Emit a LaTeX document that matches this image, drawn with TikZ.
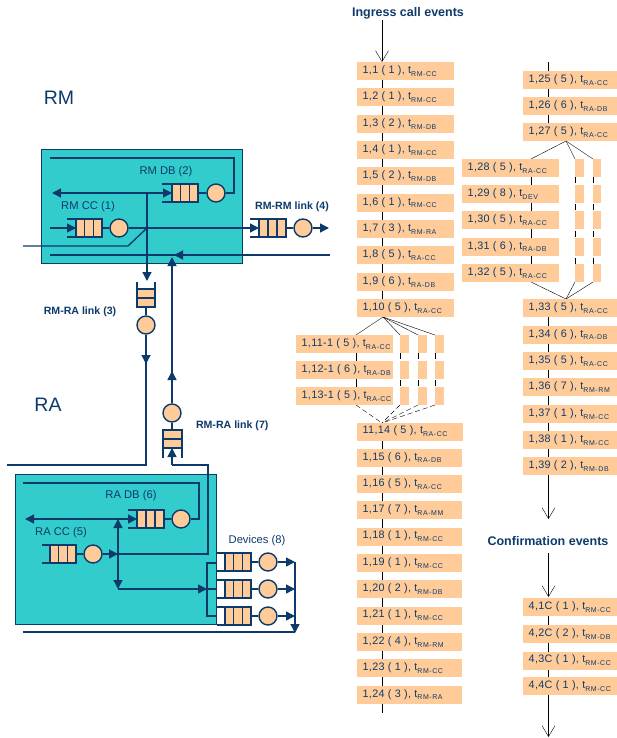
\documentclass[tikz,border=0pt]{standalone}
\usepackage{fontspec}
\setmainfont{Liberation Sans}
\usetikzlibrary{arrows.meta}
\definecolor{navy}{HTML}{0D3A6B}
\definecolor{teal2}{HTML}{33CCCC}
\definecolor{salm}{HTML}{FFCC99}
\pgfdeclarelayer{bg}
\pgfsetlayers{bg,main}
\newcommand{\tsub}[1]{\raisebox{-2.8pt}{\fontsize{7}{7}\selectfont\addfontfeature{LetterSpace=8}#1}}
% horizontal queue: left x, salmon start, right x, centre y
\newcommand{\hq}[4]{%
  \fill[salm] (#2,#4-9) rectangle (#3,#4+9);
  \draw[line width=1.4pt] ({#2+(#3-#2)/3},#4-9) -- ({#2+(#3-#2)/3},#4+9);
  \draw[line width=1.4pt] ({#2+2*(#3-#2)/3},#4-9) -- ({#2+2*(#3-#2)/3},#4+9);
  \draw[line width=1.4pt] (#2,#4-9) -- (#2,#4+9);
  \draw[line width=1.4pt] (#1,#4-9) -- (#3,#4-9) -- (#3,#4+9) -- (#1,#4+9);
}
% event box: name, left x, width, centre y, text, subscript
\newcommand{\ev}[6]{\node[evt] (#1) at (#2,#4) {\makebox[#3pt][l]{\hspace{6pt}\addfontfeature{LetterSpace=3}#5\tsub{#6}}};}
\begin{document}
\begin{tikzpicture}[x=1pt,y=-1pt,line width=1.35pt,color=navy,
  arr/.style={-{Triangle[length=9pt,width=9pt]}},
  darr/.style={{Triangle[length=9pt,width=9pt]}-{Triangle[length=9pt,width=9pt]}},
  barb/.style={-{Straight Barb[length=11pt,width=13pt]}},
  circ/.style={circle,draw=navy,fill=salm,line width=1.4pt,minimum size=18pt,inner sep=0pt},
  evt/.style={fill=salm,inner sep=0pt,minimum height=18pt,anchor=west,font=\fontsize{10.8}{12}\selectfont,text=navy},
  lbl/.style={font=\fontsize{11.2}{13}\selectfont,text=navy},
  blbl/.style={font=\bfseries\fontsize{10.6}{13}\selectfont,text=navy},
  ttl/.style={font=\bfseries\fontsize{12.5}{14}\selectfont,text=navy},
  big/.style={font=\fontsize{19.5}{22}\selectfont,text=navy}]
\useasboundingbox (0,0) rectangle (617,738);

% ---------------- RM ----------------
\node[big] (rmlbl) at (59,98) {RM};
\fill[teal2] (41,149) rectangle (242,263);
\draw[line width=0.8pt] (41,149) rectangle (242,263);

\node[circ] (rmdbS) at (216,193) {};
\draw (50,158) -- (234,158) |- (rmdbS.east);
\hq{162}{172}{198}{193}
\draw (198,193) -- (rmdbS.west);
\draw[darr] (52,193) -- (172,193);
\draw[arr] (147,193) -- (147,281);
\node[lbl] (rmdbL) at (166,172) {RM DB (2)};

\node[lbl] (rmccL) at (88,207) {RM CC (1)};
\hq{67}{76}{102}{228}
\draw[arr] (50,228) -- (76,228);
\node[circ] (rmccS) at (119,228) {};
\draw (102,228) -- (rmccS.west);
\draw[arr] (rmccS.east) -- (259,228);
\draw (23,246) -- (128,246) -- (147,228);

\hq{250}{259}{286}{228}
\node[circ] (rmrmS) at (303,228) {};
\draw (286,228) -- (rmrmS.west);
\draw[arr] (rmrmS.east) -- (329,228);
\node[blbl] (rmrmL) at (292,207) {RM-RM link (4)};
\draw (330,255) -- (50,255);
\draw[arr] (196,255) -- (174,255);

% link 3
\fill[salm] (137,289) rectangle (155,307);
\draw[line width=1.4pt] (137,289) -- (155,289);
\draw[line width=1.4pt] (137,298) -- (155,298);
\draw[line width=1.4pt] (137,282) -- (137,307) -- (155,307) -- (155,282);
\node[circ] (l3S) at (146,325) {};
\draw (146,307) -- (l3S.north);
\draw (l3S.south) -- (146,465) -- (7,465);
\draw[arr] (146,345) -- (146,364);
\node[blbl] (l3L) at (80,312) {RM-RA link (3)};

% link 7
\node[circ] (l7S) at (172,413) {};
\fill[salm] (163,430) rectangle (182,448);
\draw[line width=1.4pt] (163,439) -- (182,439);
\draw[line width=1.4pt] (163,448) -- (182,448);
\draw[line width=1.4pt] (163,458) -- (163,430) -- (182,430) -- (182,458);
\draw (l7S.south) -- (172,430);
\draw[arr] (l7S.north) -- (172,257);
\draw[arr] (172,386) -- (172,371);
\node[blbl,anchor=west] (l7L) at (192,426) {RM-RA link (7)};

% ---------------- RA ----------------
\node[big] (ralbl) at (48,405) {RA};
\fill[teal2] (15,474) rectangle (216,624);
\draw[line width=0.8pt] (15,474) rectangle (216,624);

\node[circ] (radbS) at (181,519) {};
\draw (23,483) -- (199,483) |- (radbS.east);
\hq{128}{137}{164}{519}
\draw (164,519) -- (radbS.west);
\draw[darr] (25,519) -- (137,519);
\node[lbl] (radbL) at (131,496) {RA DB (6)};
\draw[darr] (118,519) -- (118,589);
\draw[arr] (118,589) -- (207,589);
\draw (207,589) -- (217,589);
\draw (217,563) -- (207,563) -- (207,616) -- (217,616);

\node[lbl] (raccL) at (61,533) {RA CC (5)};
\hq{42}{50}{76}{554}
\node[circ] (raccS) at (93,554) {};
\draw (76,554) -- (raccS.west);
\draw (raccS.east) -- (208,554) -- (208,465) -- (172,465);
\draw[arr] (172,465) -- (172,448);
\draw[arr] (raccS.east) -- (118,554);

% devices
\node[lbl] (devL) at (257,541) {Devices (8)};
\hq{217}{225}{251}{562}
\hq{217}{225}{251}{589}
\hq{217}{225}{251}{616}
\node[circ] (dev1) at (268,562) {};
\node[circ] (dev2) at (268,589) {};
\node[circ] (dev3) at (268,616) {};
\draw (251,562) -- (dev1.west);
\draw (251,589) -- (dev2.west);
\draw (251,616) -- (dev3.west);
\draw[arr] (dev1.east) -- (295,562);
\draw[arr] (dev2.east) -- (295,589);
\draw[arr] (dev3.east) -- (295,616);
\draw[arr] (295,562) -- (295,633);
\draw (295,632) -- (23,632);

% ---------------- event columns ----------------
\node[ttl] (ingr) at (408,13) {Ingress call events};
\node[ttl] (conf) at (548,541) {Confirmation events};

\ev{e1}{356}{97}{71}{1,1 ( 1 ), t}{RM-CC}
\ev{e2}{356}{97}{97.3}{1,2 ( 1 ), t}{RM-CC}
\ev{e3}{356}{97}{123.7}{1,3 ( 2 ), t}{RM-DB}
\ev{e4}{356}{97}{150}{1,4 ( 1 ), t}{RM-CC}
\ev{e5}{356}{97}{176.3}{1,5 ( 2 ), t}{RM-DB}
\ev{e6}{356}{97}{202.7}{1,6 ( 1 ), t}{RM-CC}
\ev{e7}{356}{97}{229}{1,7 ( 3 ), t}{RM-RA}
\ev{e8}{356}{97}{255.3}{1,8 ( 5 ), t}{RA-CC}
\ev{e9}{356}{97}{281.7}{1,9 ( 6 ), t}{RA-DB}
\ev{e10}{356}{97}{308}{1,10 ( 5 ), t}{RA-CC}

\ev{e11}{295}{97}{344}{1,11-1 ( 5 ), t}{RA-CC}
\ev{e12}{295}{97}{370}{1,12-1 ( 6 ), t}{RA-DB}
\ev{e13}{295}{97}{396}{1,13-1 ( 5 ), t}{RA-CC}
\foreach \yy in {344,370,396}{
  \foreach \xx in {400,418,435}{
    \fill[salm] (\xx,\yy-9) rectangle (\xx+9,\yy+9);
  }
}

\ev{e14}{356}{106}{431.5}{11,14 ( 5 ), t}{RA-CC}
\ev{e15}{356}{105}{457.5}{1,15 ( 6 ), t}{RA-DB}
\ev{e16}{356}{105}{483.8}{1,16 ( 5 ), t}{RA-CC}
\ev{e17}{356}{105}{510.2}{1,17 ( 7 ), t}{RA-MM}
\ev{e18}{356}{105}{536.5}{1,18 ( 1 ), t}{RM-CC}
\ev{e19}{356}{105}{562.8}{1,19 ( 1 ), t}{RM-CC}
\ev{e20}{356}{105}{589.2}{1,20 ( 2 ), t}{RM-DB}
\ev{e21}{356}{105}{615.5}{1,21 ( 1 ), t}{RM-CC}
\ev{e22}{356}{105}{641.8}{1,22 ( 4 ), t}{RM-RM}
\ev{e23}{356}{105}{668.2}{1,23 ( 1 ), t}{RM-CC}
\ev{e24}{356}{105}{694.5}{1,24 ( 3 ), t}{RM-RA}

\ev{e25}{522}{95}{80.5}{1,25 ( 5 ), t}{RA-CC}
\ev{e26}{522}{95}{106}{1,26 ( 6 ), t}{RA-DB}
\ev{e27}{522}{95}{132}{1,27 ( 5 ), t}{RA-CC}
\ev{e28}{461}{97}{168}{1,28 ( 5 ), t}{RA-CC}
\ev{e29}{461}{97}{194}{1,29 ( 8 ), t}{DEV}
\ev{e30}{461}{97}{220}{1,30 ( 5 ), t}{RA-CC}
\ev{e31}{461}{97}{246.5}{1,31 ( 6 ), t}{RA-DB}
\ev{e32}{461}{97}{273}{1,32 ( 5 ), t}{RA-CC}
\foreach \yy in {168,194,220,246.5,273}{
  \fill[salm] (575,\yy-9) rectangle (584,\yy+9);
  \fill[salm] (593,\yy-9) rectangle (601,\yy+9);
}
\ev{e33}{522}{95}{308}{1,33 ( 5 ), t}{RA-CC}
\ev{e34}{522}{95}{334.5}{1,34 ( 6 ), t}{RA-DB}
\ev{e35}{522}{95}{361}{1,35 ( 5 ), t}{RA-CC}
\ev{e36}{522}{95}{387}{1,36 ( 7 ), t}{RM-RM}
\ev{e37}{522}{95}{414}{1,37 ( 1 ), t}{RM-CC}
\ev{e38}{522}{95}{440}{1,38 ( 1 ), t}{RM-CC}
\ev{e39}{522}{95}{466}{1,39 ( 2 ), t}{RM-DB}

\ev{c1}{522}{95}{607}{4,1C ( 1 ), t}{RM-CC}
\ev{c2}{522}{95}{634}{4,2C ( 2 ), t}{RM-DB}
\ev{c3}{522}{95}{660.5}{4,3C ( 1 ), t}{RM-CC}
\ev{c4}{522}{95}{686}{4,4C ( 1 ), t}{RM-CC}

\begin{pgfonlayer}{bg}
  % middle column
  \draw[barb] (382,20) -- (382,62);
  \draw (382,62) -- (382,317);
  \draw (383,317) -- (356,335);
  \draw (383,317) -- (400,335);
  \draw (383,317) -- (418,335);
  \draw (383,317) -- (435,335);
  \draw (356,335) -- (356,405);
  \draw[dash pattern=on 6pt off 3pt] (400,335) -- (400,405);
  \draw[dash pattern=on 6pt off 3pt] (418,335) -- (418,405);
  \draw[dash pattern=on 6pt off 3pt] (435,335) -- (435,405);
  \draw[dash pattern=on 5pt off 3pt] (356,405) -- (382,423);
  \draw[dash pattern=on 5pt off 3pt] (400,405) -- (382,423);
  \draw[dash pattern=on 5pt off 3pt] (418,405) -- (382,423);
  \draw[dash pattern=on 5pt off 3pt] (435,405) -- (382,423);
  \draw (382,423) -- (382,713);
  % right column
  \draw (548.5,62) -- (548.5,141);
  \draw (566,141) -- (531,159);
  \draw (566,141) -- (575,159);
  \draw (566,141) -- (593,159);
  \draw (531,159) -- (531,282);
  \draw[dash pattern=on 6pt off 3pt] (575,159) -- (575,282);
  \draw[dash pattern=on 6pt off 3pt] (593,159) -- (593,282);
  \draw (531,282) -- (566,299);
  \draw (575,282) -- (566,299);
  \draw (593,282) -- (566,299);
  \draw[barb] (548.5,299) -- (548.5,519);
  \draw[barb] (548.5,553) -- (548.5,597);
  \draw[barb] (548.5,598) -- (548.5,737);
\end{pgfonlayer}
\end{tikzpicture}
\end{document}
